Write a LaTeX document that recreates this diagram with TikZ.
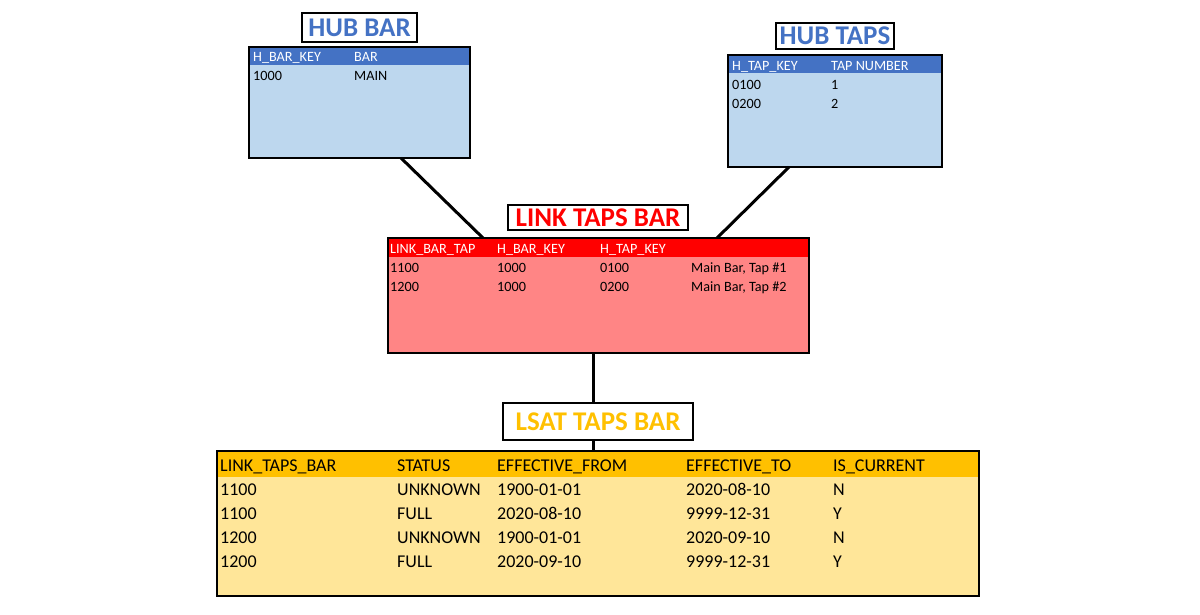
\documentclass[tikz,border=0pt]{standalone}
\usepackage{fontspec}
\setmainfont{Carlito}
\definecolor{hubhead}{HTML}{4472C4}
\definecolor{hubfill}{HTML}{BDD7EE}
\definecolor{linkhead}{HTML}{FF0000}
\definecolor{linkfill}{HTML}{FF8585}
\definecolor{sathead}{HTML}{FFC000}
\definecolor{satfill}{HTML}{FFE699}
\begin{document}
\begin{tikzpicture}[x=1pt,y=-1pt,
  tbl/.style={draw=black,line width=2.4pt,inner sep=0pt,outer sep=0pt,anchor=north west},
  ttl/.style={draw=black,line width=2pt,fill=white,inner sep=0pt,outer sep=0pt,font=\fontsize{27}{27}\selectfont\bfseries},
  cell/.style={anchor=base west,inner sep=0pt,font=\fontsize{14.2}{15}\selectfont},
  bcell/.style={anchor=base west,inner sep=0pt,font=\fontsize{18}{19}\selectfont},
  conn/.style={line width=3pt,black}]
\useasboundingbox (0,0) rectangle (1200,614);
\fill[white] (0,0) rectangle (1200,614);
\coordinate (vx) at (593,0);

% HUB BAR
\node[tbl,fill=hubfill,minimum width=221pt,minimum height=111pt] (hubbar) at (249,47) {};
\fill[hubhead] (250.2,48.2) rectangle (468.8,65);
\draw[line width=2.4pt] (hubbar.north west) rectangle (hubbar.south east);
\node[ttl,text=hubhead,minimum width=115pt,minimum height=29pt] (hubbart) at (359.5,27.5) {HUB BAR};
\node[cell,text=white] (hb1) at (253,61.5) {H\_BAR\_KEY};
\node[cell,text=white] (hb2) at (354,61.5) {BAR};
\node[cell] (hb3) at (253,80.5) {1000};
\node[cell] (hb4) at (354,80.5) {MAIN};

% HUB TAPS
\node[tbl,fill=hubfill,minimum width=214pt,minimum height=112pt] (hubtaps) at (728,55) {};
\fill[hubhead] (729.2,56.2) rectangle (940.8,73);
\draw[line width=2.4pt] (hubtaps.north west) rectangle (hubtaps.south east);
\node[ttl,text=hubhead,minimum width=118pt,minimum height=26pt] (hubtapst) at (835,36) {HUB TAPS};
\node[cell,text=white] (ht1) at (732,70.5) {H\_TAP\_KEY};
\node[cell,text=white] (ht2) at (831,70.5) {TAP NUMBER};
\node[cell] (ht3) at (732,89.5) {0100};
\node[cell] (ht4) at (831,89.5) {1};
\node[cell] (ht5) at (732,108.5) {0200};
\node[cell] (ht6) at (831,108.5) {2};

% LINK TAPS BAR
\node[tbl,fill=linkfill,minimum width=421pt,minimum height=115pt] (link) at (388,238) {};
\fill[linkhead] (389.2,239.2) rectangle (807.8,257);
\draw[line width=2.4pt] (link.north west) rectangle (link.south east);
\node[ttl,text=linkhead,minimum width=180pt,minimum height=25pt] (linkt) at (598,217.5) {LINK TAPS BAR};
\node[cell,text=white] (l1) at (390,253.5) {LINK\_BAR\_TAP};
\node[cell,text=white] (l2) at (497,253.5) {H\_BAR\_KEY};
\node[cell,text=white] (l3) at (600,253.5) {H\_TAP\_KEY};
\node[cell] (l4) at (390,272.5) {1100};
\node[cell] (l5) at (497,272.5) {1000};
\node[cell] (l6) at (600,272.5) {0100};
\node[cell] (l7) at (691,272.5) {Main Bar, Tap \#1};
\node[cell] (l8) at (390,291.5) {1200};
\node[cell] (l9) at (497,291.5) {1000};
\node[cell] (l10) at (600,291.5) {0200};
\node[cell] (l11) at (691,291.5) {Main Bar, Tap \#2};

% LSAT TAPS BAR
\node[tbl,fill=satfill,minimum width=762pt,minimum height=145pt] (lsat) at (217,451) {};
\fill[sathead] (218.2,452.2) rectangle (977.8,477);
\draw[line width=2.4pt] (lsat.north west) rectangle (lsat.south east);
\node[ttl,text=sathead,minimum width=190pt,minimum height=37pt] (lsatt) at (598,421.5) {LSAT TAPS BAR};
\node[bcell] (s1) at (220,471.5) {LINK\_TAPS\_BAR};
\node[bcell] (s2) at (397,471.5) {STATUS};
\node[bcell] (s3) at (497,471.5) {EFFECTIVE\_FROM};
\node[bcell] (s4) at (686,471.5) {EFFECTIVE\_TO};
\node[bcell] (s5) at (833,471.5) {IS\_CURRENT};
\foreach \y/\a/\b/\c/\d/\e [count=\i] in {495.5/1100/UNKNOWN/1900-01-01/2020-08-10/N,519.5/1100/FULL/2020-08-10/9999-12-31/Y,543.5/1200/UNKNOWN/1900-01-01/2020-09-10/N,567.5/1200/FULL/2020-09-10/9999-12-31/Y}{
  \node[bcell] (r\i a) at (220,\y) {\a};
  \node[bcell] (r\i b) at (397,\y) {\b};
  \node[bcell] (r\i c) at (497,\y) {\c};
  \node[bcell] (r\i d) at (686,\y) {\d};
  \node[bcell] (r\i e) at (833,\y) {\e};
}

% connectors
\draw[conn] ([xshift=41.5pt]hubbar.south) -- ([xshift=-115.5pt]link.north);
\draw[conn] ([xshift=-46pt]hubtaps.south) -- ([xshift=118.5pt]link.north);
\draw[conn] (link.south -| vx) -- (lsatt.north -| vx);
\draw[conn] (lsatt.south -| vx) -- (lsat.north -| vx);
\end{tikzpicture}
\end{document}
